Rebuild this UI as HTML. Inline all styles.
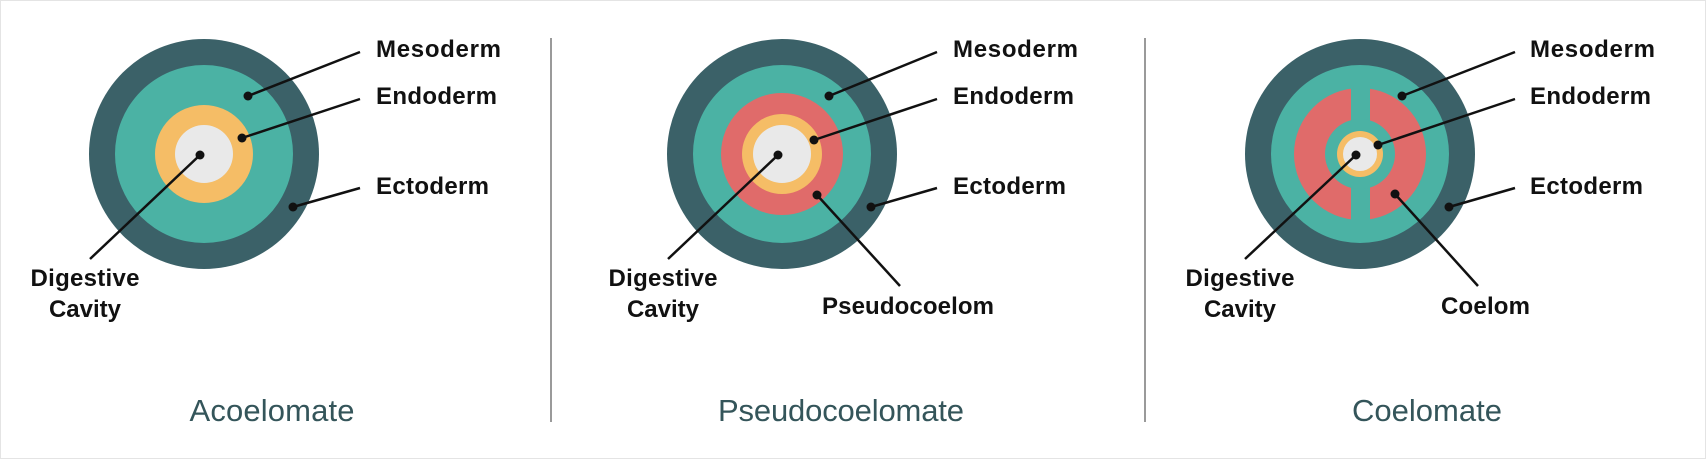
<!DOCTYPE html>
<html><head><meta charset="utf-8"><style>
html,body{margin:0;padding:0;background:#fff;}
svg{display:block;}
text{font-family:"Liberation Sans",sans-serif;}
.l{font-weight:bold;font-size:24px;fill:#111;}
.t{font-size:31px;fill:#34555a;}
</style></head><body>
<svg width="1706" height="459" viewBox="0 0 1706 459" xmlns="http://www.w3.org/2000/svg">
<rect x="0.5" y="0.5" width="1705" height="458" fill="#fff" stroke="#e4e4e4"/>
<line x1="551" y1="38" x2="551" y2="422" stroke="#9a9a9a" stroke-width="2"/>
<line x1="1145" y1="38" x2="1145" y2="422" stroke="#9a9a9a" stroke-width="2"/>
<g stroke="#111" stroke-width="2.5" fill="#111">
</g>
<!-- Panel 1 -->
<circle cx="204" cy="154" r="115" fill="#3b6168"/>
<circle cx="204" cy="154" r="89" fill="#4bb2a4"/>
<circle cx="204" cy="154" r="49" fill="#f5bd66"/>
<circle cx="204" cy="154" r="29" fill="#e9e9e9"/>
<g stroke="#111" stroke-width="2.5">
<line x1="248" y1="96" x2="360" y2="52"/>
<line x1="242" y1="138" x2="360" y2="99"/>
<line x1="293" y1="207" x2="360" y2="188"/>
<line x1="200" y1="155" x2="90" y2="259"/>
</g>
<g fill="#111"><circle cx="248" cy="96" r="4.5"/><circle cx="242" cy="138" r="4.5"/><circle cx="293" cy="207" r="4.5"/><circle cx="200" cy="155" r="4.5"/></g>
<text class="l" x="376" y="57" textLength="125">Mesoderm</text>
<text class="l" x="376" y="104" textLength="121">Endoderm</text>
<text class="l" x="376" y="194" textLength="113">Ectoderm</text>
<text class="l" x="85" y="286" text-anchor="middle" textLength="109">Digestive</text>
<text class="l" x="85" y="317" text-anchor="middle">Cavity</text>
<text class="t" x="272" y="421" text-anchor="middle" textLength="165">Acoelomate</text>
<!-- Panel 2 -->
<circle cx="782" cy="154" r="115" fill="#3b6168"/>
<circle cx="782" cy="154" r="89" fill="#4bb2a4"/>
<circle cx="782" cy="154" r="61" fill="#e06b6a"/>
<circle cx="782" cy="154" r="40" fill="#f5bd66"/>
<circle cx="782" cy="154" r="29" fill="#e9e9e9"/>
<g stroke="#111" stroke-width="2.5">
<line x1="829" y1="96" x2="937" y2="52"/>
<line x1="814" y1="140" x2="937" y2="99"/>
<line x1="871" y1="207" x2="937" y2="188"/>
<line x1="817" y1="195" x2="900" y2="286"/>
<line x1="778" y1="155" x2="668" y2="259"/>
</g>
<g fill="#111"><circle cx="829" cy="96" r="4.5"/><circle cx="814" cy="140" r="4.5"/><circle cx="871" cy="207" r="4.5"/><circle cx="817" cy="195" r="4.5"/><circle cx="778" cy="155" r="4.5"/></g>
<text class="l" x="953" y="57" textLength="125">Mesoderm</text>
<text class="l" x="953" y="104" textLength="121">Endoderm</text>
<text class="l" x="953" y="194" textLength="113">Ectoderm</text>
<text class="l" x="822" y="314" textLength="172">Pseudocoelom</text>
<text class="l" x="663" y="286" text-anchor="middle" textLength="109">Digestive</text>
<text class="l" x="663" y="317" text-anchor="middle">Cavity</text>
<text class="t" x="841" y="421" text-anchor="middle" textLength="246">Pseudocoelomate</text>
<!-- Panel 3 -->
<circle cx="1360" cy="154" r="115" fill="#3b6168"/>
<circle cx="1360" cy="154" r="89" fill="#4bb2a4"/>
<circle cx="1360" cy="154" r="66" fill="#e06b6a"/>
<rect x="1351" y="84" width="19" height="140" fill="#4bb2a4"/>
<circle cx="1360" cy="154" r="35" fill="#4bb2a4"/>
<circle cx="1360" cy="154" r="23" fill="#f5bd66"/>
<circle cx="1360" cy="154" r="17" fill="#e9e9e9"/>
<g stroke="#111" stroke-width="2.5">
<line x1="1402" y1="96" x2="1515" y2="52"/>
<line x1="1378" y1="145" x2="1515" y2="99"/>
<line x1="1449" y1="207" x2="1515" y2="188"/>
<line x1="1395" y1="194" x2="1478" y2="286"/>
<line x1="1356" y1="155" x2="1245" y2="259"/>
</g>
<g fill="#111"><circle cx="1402" cy="96" r="4.5"/><circle cx="1378" cy="145" r="4.5"/><circle cx="1449" cy="207" r="4.5"/><circle cx="1395" cy="194" r="4.5"/><circle cx="1356" cy="155" r="4.5"/></g>
<text class="l" x="1530" y="57" textLength="125">Mesoderm</text>
<text class="l" x="1530" y="104" textLength="121">Endoderm</text>
<text class="l" x="1530" y="194" textLength="113">Ectoderm</text>
<text class="l" x="1441" y="314" textLength="89">Coelom</text>
<text class="l" x="1240" y="286" text-anchor="middle" textLength="109">Digestive</text>
<text class="l" x="1240" y="317" text-anchor="middle">Cavity</text>
<text class="t" x="1427" y="421" text-anchor="middle" textLength="150">Coelomate</text>
</svg>
</body></html>
